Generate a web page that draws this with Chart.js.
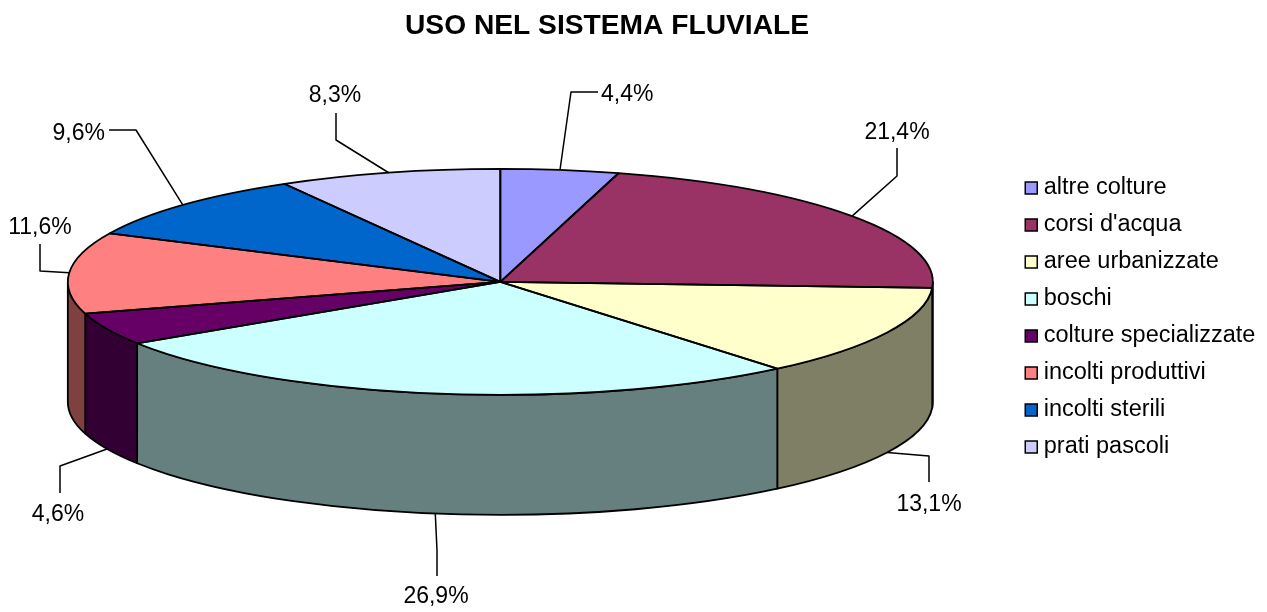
<!DOCTYPE html>
<html>
<head>
<meta charset="utf-8">
<title>USO NEL SISTEMA FLUVIALE</title>
<script src="https://cdn.jsdelivr.net/npm/chart.js@4"></script>
<style>
  html, body { margin: 0; background: #fff; }
  canvas { display: block; }
</style>
</head>
<body>
<canvas id="grafico" width="1267" height="612"></canvas>
<script>
// Dati
var titolo = 'USO NEL SISTEMA FLUVIALE';
var categorie = ['altre colture', "corsi d'acqua", 'aree urbanizzate', 'boschi',
  'colture specializzate', 'incolti produttivi', 'incolti sterili', 'prati pascoli'];
var valori = [4.4, 21.4, 13.1, 26.9, 4.6, 11.6, 9.6, 8.3];

// Colori
var colori = ['#9999FF', '#993366', '#FFFFCC', '#CCFFFF', '#660066', '#FF8080', '#0066CC', '#CCCCFF'];
var coloriLato = ['#4C4C7F', '#4C1933', '#7F7F66', '#667F7F', '#330033', '#7F4040', '#003366', '#66667F'];

// Geometria della torta "3D"
var raggioX = 432.5;
var raggioY = 113;
var spessore = 120;

// Linee guida ed etichette: gomito, fine linea, testo, allineamento
var guide = [
  { gomito: [571, 92],  fine: [598, 92],  testo: [601, 95],  allinea: 'left' },
  { gomito: [897, 176], fine: [897, 148], testo: [897, 133], allinea: 'center' },
  { gomito: [929, 456], fine: [929, 482], testo: [929, 505], allinea: 'center' },
  { gomito: [437, 550], fine: [437, 576], testo: [436, 597], allinea: 'center' },
  { gomito: [60, 466],  fine: [60, 493],  testo: [58, 515],  allinea: 'center' },
  { gomito: [40, 271],  fine: [40, 244],  testo: [40, 228],  allinea: 'center' },
  { gomito: [136, 130], fine: [109, 130], testo: [105, 134], allinea: 'right' },
  { gomito: [336, 140], fine: [336, 113], testo: [335, 96],  allinea: 'center' }
];

var FONT = '"Liberation Sans", Arial, sans-serif';

// Sposta titolo e legenda dove stanno nell'originale
var pluginPosizioni = {
  id: 'posizioni',
  afterLayout: function(chart) {
    var leg = chart.legend;
    var dx = 1030.5 - (leg.left + leg.options.labels.padding);
    var dy = 317.5 - (leg.top + leg.bottom) / 2;
    leg.left += dx;
    leg.right += dx;
    leg.top += dy;
    leg.bottom += dy;
    var t = chart.titleBlock;
    var dt = 607 - (t.left + t.right) / 2;
    t.left += dt;
    t.right += dt;
  }
};

// Torta schiacciata: lati disegnati a mano, spicchi dalla libreria
var pluginTorta = {
  id: 'torta3d',
  beforeDatasetsDraw: function(chart) {
    var ctx = chart.ctx;
    var archi = chart.getDatasetMeta(0).data;
    var cx = archi[0].x, cy = archi[0].y;

    ctx.save();
    ctx.lineWidth = 1.8;
    ctx.strokeStyle = '#000';
    ctx.lineJoin = 'round';
    archi.forEach(function(arco, i) {
      var a0 = Math.max(arco.startAngle, 0);
      var a1 = Math.min(arco.endAngle, Math.PI);
      if (a1 <= a0) return;
      ctx.beginPath();
      ctx.ellipse(cx, cy + spessore, raggioX, raggioY, 0, a0, a1);
      ctx.ellipse(cx, cy, raggioX, raggioY, 0, a1, a0, true);
      ctx.closePath();
      ctx.fillStyle = coloriLato[i];
      ctx.fill();
      ctx.stroke();
    });
    ctx.restore();

    ctx.save();
    ctx.translate(cx, cy);
    ctx.scale(1, raggioY / raggioX);
    ctx.translate(-cx, -cy);
  },
  afterDatasetsDraw: function(chart) {
    var ctx = chart.ctx;
    ctx.restore();

    var archi = chart.getDatasetMeta(0).data;
    var cx = archi[0].x, cy = archi[0].y;

    // bordi degli spicchi
    ctx.save();
    ctx.lineWidth = 1.8;
    ctx.strokeStyle = '#000';
    ctx.lineJoin = 'round';
    archi.forEach(function(arco) {
      ctx.beginPath();
      ctx.moveTo(cx, cy);
      ctx.ellipse(cx, cy, raggioX, raggioY, 0, arco.startAngle, arco.endAngle);
      ctx.closePath();
      ctx.stroke();
    });

    // linee guida ed etichette
    ctx.lineWidth = 1.5;
    ctx.font = '23px ' + FONT;
    ctx.fillStyle = '#000';
    ctx.textBaseline = 'middle';
    archi.forEach(function(arco, i) {
      var g = guide[i];
      var medio = (arco.startAngle + arco.endAngle) / 2;
      var ax = cx + raggioX * Math.cos(medio);
      var ay = cy + raggioY * Math.sin(medio);
      if (Math.sin(medio) > 0) ay += spessore;
      ctx.beginPath();
      ctx.moveTo(ax, ay);
      ctx.lineTo(g.gomito[0], g.gomito[1]);
      ctx.lineTo(g.fine[0], g.fine[1]);
      ctx.stroke();
      ctx.textAlign = g.allinea;
      ctx.fillText(valori[i].toFixed(1).replace('.', ',') + '%', g.testo[0], g.testo[1]);
    });
    ctx.restore();
  }
};

new Chart(document.getElementById('grafico'), {
  type: 'pie',
  data: {
    labels: categorie,
    datasets: [{
      data: valori,
      backgroundColor: colori,
      borderWidth: 0,
      radius: raggioX,
      clip: false
    }]
  },
  options: {
    responsive: false,
    animation: false,
    events: [],
    layout: { padding: { left: 0, right: 18, top: 0, bottom: 101 } },
    plugins: {
      title: {
        display: true,
        text: titolo,
        color: '#000',
        font: { family: FONT, size: 28.2, weight: 'bold' },
        padding: { top: 9, bottom: 10 }
      },
      legend: {
        position: 'right',
        labels: {
          color: '#000',
          font: { family: FONT, size: 23.5 },
          usePointStyle: true,
          pointStyle: 'rect',
          boxWidth: 1.5,
          boxHeight: 12,
          padding: 13.5,
          generateLabels: function(chart) {
            var base = Chart.overrides.doughnut.plugins.legend.labels.generateLabels(chart);
            return base.map(function(voce) {
              voce.lineWidth = 1.5;
              voce.strokeStyle = '#000';
              return voce;
            });
          }
        }
      },
      tooltip: { enabled: false }
    }
  },
  plugins: [pluginPosizioni, pluginTorta]
});
</script>
</body>
</html>
